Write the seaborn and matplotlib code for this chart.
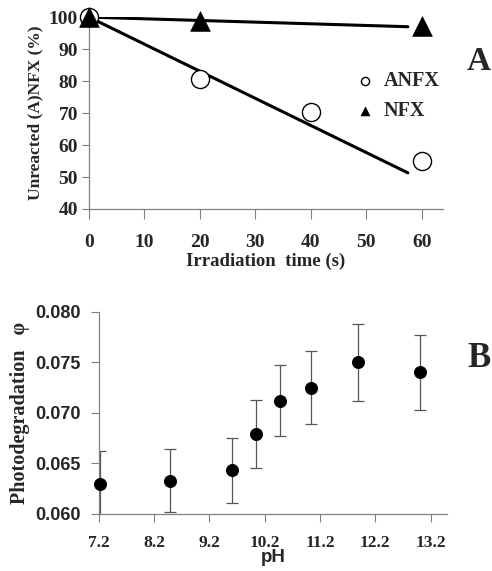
import matplotlib
matplotlib.use("Agg")
import matplotlib.pyplot as plt
import numpy as np
import pandas as pd
import seaborn as sns

# Panel A : unreacted fraction vs irradiation time
anfx_time = [0, 20, 40, 60]
anfx = [100.0, 80.6, 70.4, 55.0]
nfx_time = [0, 20, 60]
nfx = [100.0, 98.8, 97.2]
fit_x = [0, 57.5]
fit_anfx = [100.0, 51.3]
fit_nfx = [100.0, 97.0]
a_xticks = [0, 10, 20, 30, 40, 50, 60]
a_yticks = [40, 50, 60, 70, 80, 90, 100]

# Panel B : photodegradation quantum yield vs pH
ph = [7.22, 8.49, 9.60, 10.04, 10.47, 11.04, 11.89, 13.0]
phi = [0.0630, 0.0633, 0.0643, 0.0679, 0.0712, 0.0725, 0.0750, 0.0740]
phi_err = [0.0032, 0.0031, 0.0032, 0.0034, 0.0035, 0.0036, 0.0038, 0.0037]
b_xticks = [7.2, 8.2, 9.2, 10.2, 11.2, 12.2, 13.2]
b_yticks = [0.060, 0.065, 0.070, 0.075, 0.080]

sns.set_style("ticks")
SERIF = ["Liberation Serif", "DejaVu Serif"]
SANS = ["Liberation Sans", "DejaVu Sans"]
plt.rcParams["font.family"] = SERIF
plt.rcParams["font.weight"] = "bold"

fig = plt.figure(figsize=(4.92, 5.71), dpi=100)
GRAY = "#808080"


def style_ticks(ax, xfam, yfam, xsize, ysize):
    for t in ax.xaxis.get_major_ticks():
        t.label1.set_fontsize(xsize)
        t.label1.set_fontweight("bold")
        t.label1.set_family(xfam)
    for t in ax.yaxis.get_major_ticks():
        t.label1.set_fontsize(ysize)
        t.label1.set_fontweight("bold")
        t.label1.set_family(yfam)
    sns.despine(ax=ax)
    for sp in ("left", "bottom"):
        ax.spines[sp].set_color(GRAY)
        ax.spines[sp].set_linewidth(0.9)


# ---------- A ----------
axA = fig.add_axes([0.181, 0.634, 0.719, 0.336])
dfA1 = pd.DataFrame({"t": anfx_time, "val": anfx})
dfA2 = pd.DataFrame({"t": nfx_time, "val": nfx})
axA.plot(fit_x, fit_anfx, color="black", lw=2.2, zorder=2)
axA.plot(fit_x, fit_nfx, color="black", lw=2.2, zorder=2)
sns.scatterplot(data=dfA1, x="t", y="val", ax=axA, marker="o", s=170,
                facecolor="white", edgecolor="black", linewidth=1.0,
                zorder=3, clip_on=False, label="ANFX")
sns.scatterplot(data=dfA2, x="t", y="val", ax=axA, marker="^", s=200,
                color="black", edgecolor="black", linewidth=0.5,
                zorder=4, clip_on=False, label="NFX")
axA.set_xlim(0, 63.8)
axA.set_ylim(40, 100)
axA.set_xticks(a_xticks)
axA.set_yticks(a_yticks)
axA.set_xlabel("Irradiation  time (s)", fontsize=13.5, fontweight="bold",
               family=SERIF, labelpad=1)
axA.set_ylabel("Unreacted (A)NFX (%)", fontsize=12.5, fontweight="bold",
               family=SERIF, labelpad=4)
axA.tick_params(axis="x", direction="out", length=7, width=0.8, color=GRAY, pad=11)
axA.tick_params(axis="y", direction="out", length=5, width=0.8, color=GRAY, pad=3)
axA.legend(loc="upper left", bbox_to_anchor=(0.725, 0.77), frameon=False,
           borderpad=0, handlelength=0.9, handletextpad=0.5,
           labelspacing=0.5, markerscale=0.45,
           prop={"family": SERIF, "weight": "bold", "size": 14.5})
style_ticks(axA, SERIF, SERIF, 14, 14)
fig.text(0.997, 0.893, "A", fontsize=24, fontweight="bold", family=SERIF,
         ha="right", va="center")

# ---------- B ----------
axB = fig.add_axes([0.201, 0.100, 0.708, 0.354])
dfB = pd.DataFrame({"pH": ph, "phi": phi, "err": phi_err})
axB.errorbar(dfB["pH"], dfB["phi"], yerr=dfB["err"], fmt="none",
             ecolor="#555555", elinewidth=0.9, capsize=4, capthick=0.9,
             zorder=2)
sns.scatterplot(data=dfB, x="pH", y="phi", ax=axB, s=75, color="black",
                edgecolor="black", zorder=3, clip_on=False, legend=False)
axB.set_xlim(7.2, 13.5)
axB.set_ylim(0.060, 0.080)
axB.set_xticks(b_xticks)
axB.set_yticks(b_yticks)
axB.set_xticklabels([f"{v:.1f}" for v in b_xticks])
axB.set_yticklabels([f"{v:.3f}" for v in b_yticks])
axB.set_xlabel("pH", fontsize=13.5, fontweight="bold", family=SANS, labelpad=-1)
axB.set_ylabel("Photodegradation   \u03c6", fontsize=14.5, fontweight="bold",
               family=SERIF, labelpad=4)
axB.tick_params(axis="x", direction="out", length=6, width=0.8, color=GRAY, pad=9)
axB.tick_params(axis="y", direction="out", length=6, width=0.8, color=GRAY, pad=7)
style_ticks(axB, SERIF, SANS, 12.5, 13)
fig.text(0.997, 0.373, "B", fontsize=25, fontweight="bold", family=SERIF,
         ha="right", va="center")

fig.savefig("out.png", dpi=100)
